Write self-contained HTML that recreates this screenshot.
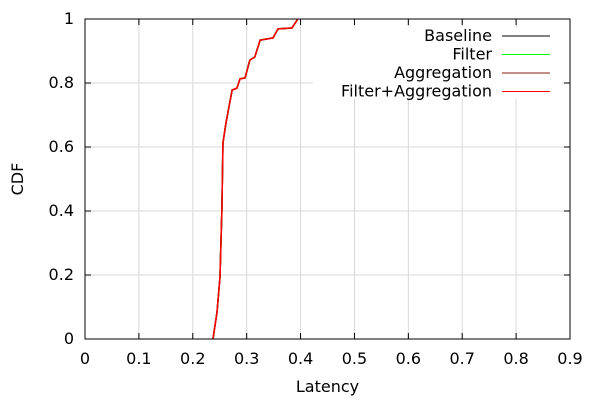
<!DOCTYPE html>
<html><head><meta charset="utf-8"><style>
body{margin:0;background:#fff}
svg text{font-family:"DejaVu Sans","Liberation Sans",sans-serif;font-size:16px;fill:#000}
</style></head><body>
<svg id="c" width="600" height="400"></svg>
<script>
const xTicks=[0,0.1,0.2,0.3,0.4,0.5,0.6,0.7,0.8,0.9];
const yTicks=[0,0.2,0.4,0.6,0.8,1];
const xTickLabels=["0","0.1","0.2","0.3","0.4","0.5","0.6","0.7","0.8","0.9"];
const yTickLabels=["0","0.2","0.4","0.6","0.8","1"];
const latency=[0.2375,0.245,0.2505,0.254,0.256,0.2616,0.265,0.273,0.282,0.2876,0.297,0.306,0.315,0.325,0.349,0.358,0.384,0.395];
const baselineCdf=[0,0.084,0.194,0.403,0.613,0.675,0.706,0.778,0.784,0.813,0.816,0.872,0.881,0.934,0.941,0.969,0.972,1.0];
const filterCdf=[0,0.084,0.194,0.403,0.613,0.675,0.706,0.778,0.784,0.813,0.816,0.872,0.881,0.934,0.941,0.969,0.972,1.0];
const aggregationCdf=[0,0.084,0.194,0.403,0.613,0.675,0.706,0.778,0.784,0.813,0.816,0.872,0.881,0.934,0.941,0.969,0.972,1.0];
const filterAggCdf=[0,0.084,0.194,0.403,0.613,0.675,0.706,0.778,0.784,0.813,0.816,0.872,0.881,0.934,0.941,0.969,0.972,1.0];
const seriesNames=["Baseline","Filter","Aggregation","Filter+Aggregation"];
const seriesColors=["#000000","#00ff00","#8b1a1a","#ff0000"];
const seriesData=[baselineCdf,filterCdf,aggregationCdf,filterAggCdf];
const L=85,R=570,T=19,B=339;
const X=v=>L+(v/0.9)*(R-L), Y=v=>B-v*(B-T);
const svg=document.getElementById('c'),NS="http://www.w3.org/2000/svg";
function mk(t,a,p){const e=document.createElementNS(NS,t);for(const k in a)e.setAttribute(k,a[k]);(p||svg).appendChild(e);return e;}
xTicks.forEach((v,i)=>{
 if(i>0&&i<xTicks.length-1){const g=mk('line',{x1:X(v),x2:X(v),y1:T,y2:B,stroke:'#d8d8d8','stroke-width':1});
 
 }
 const tk=mk('line',{x1:X(v),x2:X(v),y1:B,y2:B-6,stroke:'#000'});
 
 
 const tk2=mk('line',{x1:X(v),x2:X(v),y1:T,y2:T+6,stroke:'#000'});
 
 
 const t=mk('text',{x:X(v),y:364,'text-anchor':'middle'});t.textContent=xTickLabels[i];
 
 
});
yTicks.forEach((v,i)=>{
 if(i>0&&i<yTicks.length-1){const g=mk('line',{x1:L,x2:R,y1:Y(v),y2:Y(v),stroke:'#d8d8d8','stroke-width':1});
 
 }
 const tk=mk('line',{x1:L,x2:L+6,y1:Y(v),y2:Y(v),stroke:'#000'});
 
 
 const tk2=mk('line',{x1:R,x2:R-6,y1:Y(v),y2:Y(v),stroke:'#000'});
 
 
 const t=mk('text',{x:L-11,y:Y(v)+5,'text-anchor':'end'});t.textContent=yTickLabels[i];
 
 
});
const bg=mk('rect',{x:313,y:T+8,width:R-313-8,height:72,fill:'#fff'});


seriesData.forEach((d,s)=>{
 const p=mk('polyline',{points:d.map((v,i)=>X(latency[i])+','+Y(v)).join(' '),fill:'none',stroke:seriesColors[s],'stroke-width':1.5,'stroke-linejoin':'round'});
 
 
 const ly=36+s*18.5;
 const lt=mk('text',{x:492,y:ly+5,'text-anchor':'end'});lt.textContent=seriesNames[s];
 
 
 const ll=mk('line',{x1:502,x2:550,y1:ly,y2:ly,stroke:seriesColors[s]});
 
 
});
const fr=mk('rect',{x:L,y:T,width:R-L,height:B-T,fill:'none',stroke:'#000'});


const xt=mk('text',{x:(L+R)/2,y:392,'text-anchor':'middle'});xt.textContent='Latency';


const yt=mk('text',{x:23,y:179,'text-anchor':'middle',transform:'rotate(-90 23 179)'});yt.textContent='CDF';


</script>
</body></html>
